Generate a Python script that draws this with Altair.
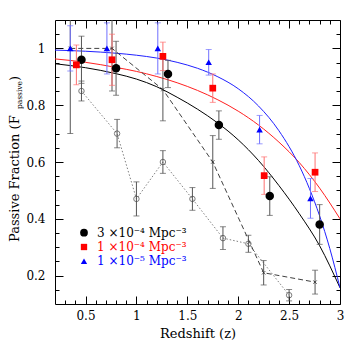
import altair as alt
import pandas as pd

# ---------------- data ----------------
z_black = [0.46, 0.80, 1.31, 1.81, 2.31, 2.80]
f_black = [0.96, 0.93, 0.91, 0.73, 0.48, 0.38]
e_black = [0.083, 0.095, 0.048, 0.05, 0.068, 0.07]

z_red = [0.41, 0.76, 1.26, 1.75, 2.255, 2.755]
f_red = [0.942, 0.96, 0.972, 0.86, 0.552, 0.564]
e_red = [0.07, 0.09, 0.05, 0.05, 0.066, 0.068]

z_blue = [0.35, 0.71, 1.21, 1.71, 2.21, 2.71]
f_blue = [1.0, 1.0, 1.0, 0.951, 0.714, 0.472]
e_blue = [0.08, 0.09, 0.09, 0.045, 0.05, 0.07]

z_open = [0.46, 0.81, 1.0, 1.26, 1.55, 1.85, 2.10, 2.50]
f_open = [0.85, 0.70, 0.47, 0.60, 0.47, 0.332, 0.312, 0.131]
e_open = [0.035, 0.05, 0.06, 0.04, 0.04, 0.04, 0.03, 0.02]

z_cross = [0.35, 0.76, 1.26, 1.75, 2.25, 2.755]
f_cross = [1.0, 1.0, 0.855, 0.60, 0.21, 0.177]
e_cross = [0.30, 0.15, 0.11, 0.093, 0.043, 0.042]

# fitted curves
cz_black = [0.2, 0.5, 0.8, 1.0, 1.2, 1.4, 1.6, 1.8, 2.0, 2.2, 2.4, 2.6, 2.8, 3.0]
cf_black = [0.946, 0.932, 0.911, 0.892, 0.865, 0.828, 0.786, 0.737, 0.678, 0.605, 0.517,
            0.418, 0.305, 0.157]
cz_red = [0.2, 0.5, 0.8, 1.0, 1.2, 1.4, 1.6, 1.8, 2.0, 2.2, 2.4, 2.6, 2.8, 3.0]
cf_red = [0.963, 0.951, 0.933, 0.919, 0.901, 0.879, 0.852, 0.819, 0.779, 0.730, 0.670,
          0.598, 0.508, 0.400]
cz_blue = [0.2, 0.5, 0.8, 1.0, 1.2, 1.4, 1.6, 1.8, 2.0, 2.2, 2.4, 2.6, 2.7, 2.8, 2.9, 3.0]
cf_blue = [0.994, 0.990, 0.983, 0.976, 0.966, 0.951, 0.930, 0.900, 0.858, 0.797, 0.710,
           0.587, 0.506, 0.410, 0.295, 0.157]

x_major = [0.5, 1.0, 1.5, 2.0, 2.5, 3.0]
x_minor = [0.3, 0.4, 0.6, 0.7, 0.8, 0.9, 1.1, 1.2, 1.3, 1.4, 1.6, 1.7, 1.8, 1.9,
           2.1, 2.2, 2.3, 2.4, 2.6, 2.7, 2.8, 2.9]
y_major = [0.2, 0.4, 0.6, 0.8, 1.0]
y_minor = [0.15, 0.25, 0.3, 0.35, 0.45, 0.5, 0.55, 0.65, 0.7, 0.75, 0.85, 0.9, 0.95, 1.05]

legend_labels = ["3 \u00d710\u207b\u2074 Mpc\u207b\u00b3", "1 \u00d710\u207b\u2074 Mpc\u207b\u00b3",
                 "1 \u00d710\u207b\u2075 Mpc\u207b\u00b3"]
legend_colors = ["black", "red", "blue"]
legend_shapes = ["circle", "square", "triangle-up"]
legend_sizes = [60, 40, 40]

FONT = "DejaVu Serif"

xs = alt.Scale(domain=[0.2, 3.0], nice=False, zero=False)
ys = alt.Scale(domain=[0.1, 1.1], nice=False, zero=False)


def ax(orient, values, size, labels=False, title=None):
    kw = dict(orient=orient, values=values, offset=-size, tickSize=size, domain=False,
              grid=False, labels=labels, tickColor="black", tickWidth=1)
    if labels:
        kw.update(format="~g", labelFont=FONT, labelFontSize=12, labelColor="black",
                  labelPadding=6 if orient == "bottom" else 10, labelFlush=False,
                  labelOverlap=False)
    if title:
        kw.update(title=title, titleFont=FONT, titleFontSize=13, titleFontWeight="normal",
                  titleColor="black", titlePadding=6)
    else:
        kw.update(title=None)
    return alt.Axis(**kw)


def curve(zs, fs, color, xa, ya, dash=None):
    df = pd.DataFrame({"z": zs, "f": fs})
    mk = dict(color=color, strokeWidth=1, clip=True)
    if dash:
        mk["strokeDash"] = dash
    else:
        mk["interpolate"] = "monotone"
    return alt.Chart(df).mark_line(**mk).encode(
        x=alt.X("z:Q", scale=xs, axis=xa),
        y=alt.Y("f:Q", scale=ys, axis=ya),
    )


def errbars(zs, fs, es, color):
    df = pd.DataFrame({"z": zs, "lo": [f - e for f, e in zip(fs, es)],
                       "hi": [f + e for f, e in zip(fs, es)]})
    base = alt.Chart(df)
    x = alt.X("z:Q", scale=xs, axis=None)
    rule = base.mark_rule(color=color, strokeWidth=1, clip=True).encode(
        x=x, y=alt.Y("lo:Q", scale=ys, axis=None), y2="hi:Q")
    cap1 = base.mark_tick(color=color, orient="horizontal", size=6, thickness=1, clip=True).encode(
        x=x, y=alt.Y("lo:Q", scale=ys, axis=None))
    cap2 = base.mark_tick(color=color, orient="horizontal", size=6, thickness=1, clip=True).encode(
        x=x, y=alt.Y("hi:Q", scale=ys, axis=None))
    return [rule, cap1, cap2]


def points(zs, fs, **mk):
    df = pd.DataFrame({"z": zs, "f": fs})
    return alt.Chart(df).mark_point(clip=True, **mk).encode(
        x=alt.X("z:Q", scale=xs, axis=None),
        y=alt.Y("f:Q", scale=ys, axis=None),
    )


layers = [
    curve(cz_black, cf_black, "black", ax("bottom", x_major, 8, True, "Redshift (z)"),
          ax("left", y_major, 8, True)),
    curve(cz_red, cf_red, "#ff2020", ax("bottom", x_minor, 4), ax("left", y_minor, 4)),
    curve(cz_blue, cf_blue, "#2020ff", ax("top", x_major, 8), ax("right", y_major, 8)),
    curve(z_open, f_open, "#808080", ax("top", x_minor, 4), ax("right", y_minor, 4), dash=[1.5, 2]),
    curve(z_cross, f_cross, "#404040", None, None, dash=[5, 3]),
]
layers += errbars(z_open, f_open, e_open, "#555555")
layers += errbars(z_cross, f_cross, e_cross, "#555555")
layers += errbars(z_black, f_black, e_black, "#555555")
layers += errbars(z_red, f_red, e_red, "#ff7070")
layers += errbars(z_blue, f_blue, e_blue, "#7070ff")
layers += [
    points(z_open, f_open, shape="circle", filled=False, size=30, color="#444444", strokeWidth=1),
    points(z_cross, f_cross, shape="M-1,-1L1,1M-1,1L1,-1", filled=False, size=12,
           color="#222222", strokeWidth=1),
    points(z_black, f_black, shape="circle", filled=True, size=72, color="black", opacity=1),
    points(z_red, f_red, shape="square", filled=True, size=45, color="red", opacity=1),
    points(z_blue, f_blue, shape="triangle-up", filled=True, size=42, color="blue", opacity=1),
]

main = alt.layer(*layers).resolve_axis(x="independent", y="independent")

# legend (inside the plot)
leg_df = pd.DataFrame({"row": [0, 1, 2], "label": legend_labels, "col": legend_colors,
                       "shape": legend_shapes, "size": legend_sizes})
leg_y = alt.Y("row:Q", scale=alt.Scale(domain=[0, 2], range=[212.7, 241.3]), axis=None)
leg_sym = alt.Chart(leg_df).mark_point(filled=True, opacity=1).encode(
    x=alt.value(29), y=leg_y,
    color=alt.Color("col:N", scale=None),
    shape=alt.Shape("shape:N", scale=None),
    size=alt.Size("size:Q", scale=None),
)
leg_txt = alt.Chart(leg_df).mark_text(align="left", baseline="middle", font=FONT,
                                      fontSize=12).encode(
    x=alt.value(42), y=leg_y, text="label:N",
    color=alt.Color("col:N", scale=None),
)

# y-axis title with subscript
ytitle_main = ["Passive Fraction (F"]
ytitle_sub = ["passive"]
ytitle_close = [")"]
one = lambda t: pd.DataFrame({"t": t})
yt1 = alt.Chart(one(ytitle_main)).mark_text(angle=270, align="left", baseline="alphabetic",
                                            font=FONT, fontSize=13, color="black").encode(
    text="t:N", x=alt.value(-36), y=alt.value(222))
yt2 = alt.Chart(one(ytitle_sub)).mark_text(angle=270, align="left", baseline="alphabetic",
                                           font=FONT, fontSize=7.5, color="black").encode(
    text="t:N", x=alt.value(-33), y=alt.value(89))
yt3 = alt.Chart(one(ytitle_close)).mark_text(angle=270, align="left", baseline="alphabetic",
                                             font=FONT, fontSize=13, color="black").encode(
    text="t:N", x=alt.value(-36), y=alt.value(61))

legend_group = alt.layer(leg_sym, leg_txt, yt1, yt2, yt3)

chart = alt.layer(main, legend_group).resolve_scale(y="independent").properties(
    width=285, height=284,
    autosize=alt.AutoSizeParams(type="none"),
    padding={"left": 47, "top": 12, "right": 10, "bottom": 40},
).configure_view(stroke="black", strokeWidth=1)

chart.save("out.html", embed_options={"renderer": "svg", "actions": False})
